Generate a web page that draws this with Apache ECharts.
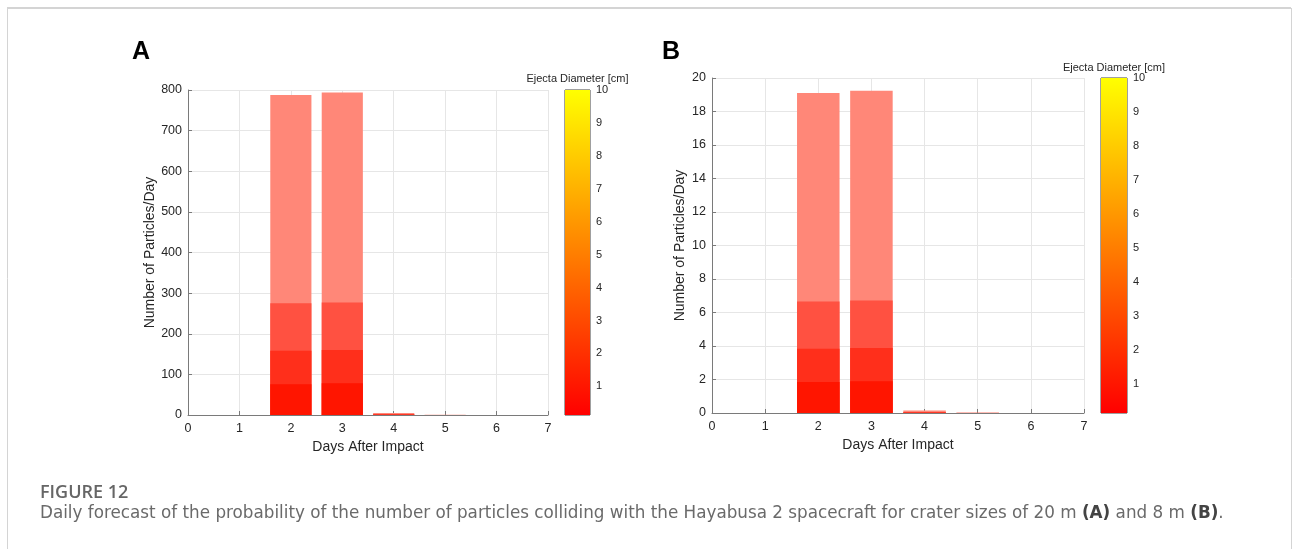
<!DOCTYPE html>
<html>
<head>
<meta charset="utf-8">
<script src="https://cdn.jsdelivr.net/npm/echarts@6/dist/echarts.min.js"></script>
<style>
html,body{margin:0;padding:0;background:#fff;}
#c{width:1293px;height:549px;}
</style>
</head>
<body>
<div id="c"></div>
<script>
// ---- data ----
const days = [2, 3, 4, 5, 6];
// Panel A (crater 20 m): cumulative particle counts per day, by ejecta layer
const A_all = [788, 794, 5, 0.8, 0.3];
const A_l3  = [275, 277, 1.8, 0.3, 0.1];
const A_l2  = [158, 160, 1.0, 0.2, 0.05];
const A_l1  = [76, 78, 0.5, 0.1, 0.02];
// Panel B (crater 8 m)
const B_all = [19.1, 19.24, 0.15, 0.02, 0.005];
const B_l3  = [6.66, 6.72, 0.05, 0.01, 0.002];
const B_l2  = [3.84, 3.88, 0.03, 0.005, 0.001];
const B_l1  = [1.85, 1.89, 0.015, 0.002, 0.0005];
const colorbarTicks = [1, 2, 3, 4, 5, 6, 7, 8, 9, 10];
const colorbarRange = [0.13, 10];
const colorbarTitle = 'Ejecta Diameter [cm]';
const xName = 'Days After Impact';
const yName = 'Number of Particles/Day';
const capTitle = 'FIGURE 12';
const capText = 'Daily forecast of the probability of the number of particles colliding with the Hayabusa 2 spacecraft for crater sizes of 20 m {b|(A)} and 8 m {b|(B)}.';

// ---- layout ----
const gA = {left: 188, top: 90, width: 360, height: 325};
const cA = {left: 565, top: 90, width: 25, height: 325};
const gB = {left: 712, top: 78, width: 372, height: 335};
const cB = {left: 1101, top: 78, width: 26, height: 335};
const layerColors = ['#ff8778', '#ff5141', '#ff2f1b', '#ff1500'];
const font = '"Liberation Sans", Arial, sans-serif';
const capFont = '"DejaVu Sans", sans-serif';
const axisCol = '#7a7a7a';
const txtCol = '#262626';

function pairs(v) { return days.map((d, i) => [d, v[i]]); }

function mainX(idx) {
  return {
    type: 'value', gridIndex: idx, min: 0, max: 7, interval: 1,
    name: xName, nameLocation: 'middle', nameGap: 24,
    nameTextStyle: {fontFamily: font, fontSize: 14, color: txtCol},
    axisLine: {show: true, lineStyle: {color: axisCol, width: 1}},
    axisTick: {show: true, inside: true, length: 4, lineStyle: {color: axisCol}},
    axisLabel: {fontFamily: font, fontSize: 12.5, color: txtCol, margin: 7},
    splitLine: {show: true, lineStyle: {color: '#e6e6e6', width: 1}}
  };
}
function mainY(idx, max, interval, gap) {
  return {
    type: 'value', gridIndex: idx, min: 0, max: max, interval: interval,
    name: yName, nameLocation: 'middle', nameGap: gap,
    nameTextStyle: {fontFamily: font, fontSize: 14, color: txtCol},
    axisLine: {show: true, lineStyle: {color: axisCol, width: 1}},
    axisTick: {show: true, inside: true, length: 4, lineStyle: {color: axisCol}},
    axisLabel: {fontFamily: font, fontSize: 12.5, color: txtCol, margin: 6},
    splitLine: {show: true, lineStyle: {color: '#e6e6e6', width: 1}}
  };
}
function cbX(idx) {
  return {type: 'category', gridIndex: idx, data: ['c'], show: false, boundaryGap: true};
}
function cbY(idx) {
  return {
    type: 'value', gridIndex: idx, position: 'right',
    min: colorbarRange[0], max: colorbarRange[1],
    axisLine: {show: false},
    axisTick: {show: true, inside: true, length: 3, lineStyle: {color: '#404040'},
               customValues: colorbarTicks.slice(0, -1)},
    axisLabel: {fontFamily: font, fontSize: 11, color: txtCol, margin: 6,
                customValues: colorbarTicks},
    splitLine: {show: false}
  };
}
function layerSeries(xi, yi, arrs, bw) {
  return arrs.map((a, k) => ({
    type: 'bar', xAxisIndex: xi, yAxisIndex: yi, data: pairs(a),
    barWidth: bw, barGap: '-100%', silent: true, animation: false,
    itemStyle: {color: layerColors[k]}
  }));
}
function cbSeries(i) {
  return {
    type: 'bar', xAxisIndex: i, yAxisIndex: i, data: [colorbarRange[1]],
    barWidth: '100%', silent: true, animation: false, clip: true,
    itemStyle: {color: new echarts.graphic.LinearGradient(0, 0, 0, 1, [
      {offset: 0, color: '#ffff00'}, {offset: 1, color: '#ff0000'}])}
  };
}

const chart = echarts.init(document.getElementById('c'), null, {renderer: 'canvas'});
const option = {
  backgroundColor: '#ffffff',
  animation: false,
  grid: [
    Object.assign({containLabel: false}, gA),
    Object.assign({containLabel: false, show: true, borderColor: '#404040', borderWidth: 1}, cA),
    Object.assign({containLabel: false}, gB),
    Object.assign({containLabel: false, show: true, borderColor: '#404040', borderWidth: 1}, cB)
  ],
  xAxis: [mainX(0), cbX(1), mainX(2), cbX(3)],
  yAxis: [mainY(0, 800, 100, 31), cbY(1), mainY(2, 20, 2, 25), cbY(3)],
  series: [
    ...layerSeries(0, 0, [A_all, A_l3, A_l2, A_l1], gA.width / 7 * 0.8),
    cbSeries(1),
    ...layerSeries(2, 2, [B_all, B_l3, B_l2, B_l1], gB.width / 7 * 0.8),
    cbSeries(3)
  ],
  graphic: [
    {type: 'line', shape: {x1: 7, y1: 8, x2: 1291, y2: 8}, style: {stroke: '#d4d4d4', lineWidth: 2}, silent: true},
    {type: 'line', shape: {x1: 7.5, y1: 8, x2: 7.5, y2: 549}, style: {stroke: '#d4d4d4', lineWidth: 1}, silent: true},
    {type: 'line', shape: {x1: 1291.5, y1: 8, x2: 1291.5, y2: 549}, style: {stroke: '#d4d4d4', lineWidth: 1}, silent: true},
    {type: 'text', left: 132, top: 40, style: {text: 'A', font: 'bold 25px ' + font, fill: '#000'}},
    {type: 'text', left: 662, top: 40, style: {text: 'B', font: 'bold 25px ' + font, fill: '#000'}},
    {type: 'text', x: cA.left + cA.width / 2, y: cA.top - 6,
     style: {text: colorbarTitle, font: '11px ' + font, fill: txtCol, align: 'center', verticalAlign: 'bottom'}},
    {type: 'text', x: cB.left + cB.width / 2, y: cB.top - 5,
     style: {text: colorbarTitle, font: '11px ' + font, fill: txtCol, align: 'center', verticalAlign: 'bottom'}},
    {type: 'text', x: 40, y: 484,
     style: {text: capTitle, font: '600 18px "Open Sans", sans-serif', fill: '#666666'}},
    {type: 'text', x: 40, y: 505,
     style: {text: capText, font: '16.8px ' + capFont, fill: '#6a6a6a',
             rich: {b: {fontWeight: 'bold', fontSize: 16.8, fontFamily: capFont, fill: '#444444'}}}}
  ]
};
chart.setOption(option);
</script>
</body>
</html>
